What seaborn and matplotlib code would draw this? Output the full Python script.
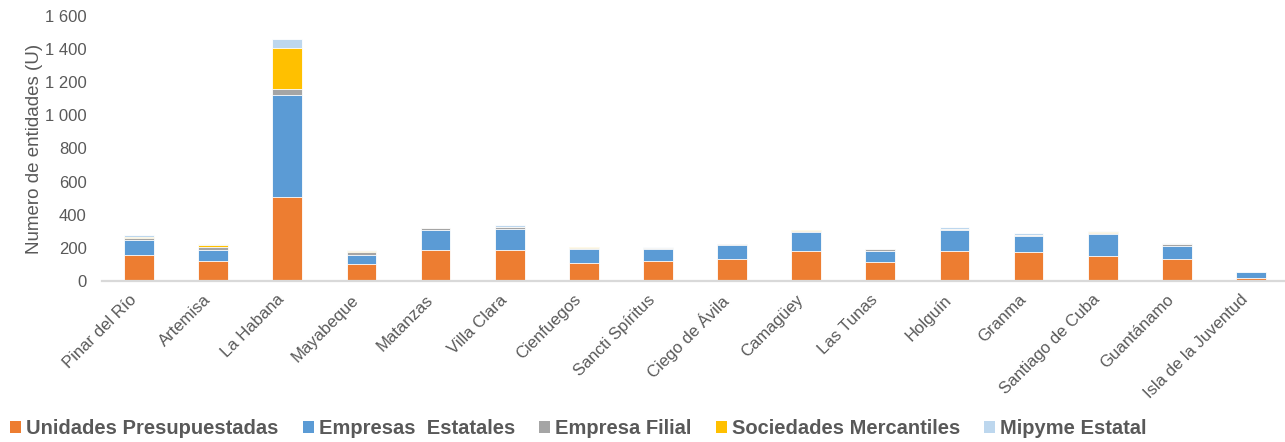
import matplotlib
matplotlib.use("Agg")
import matplotlib.pyplot as plt
from matplotlib.patches import Patch
from matplotlib.ticker import FuncFormatter, MultipleLocator
import seaborn as sns
import pandas as pd

provincias = ["Pinar del Río", "Artemisa", "La Habana", "Mayabeque", "Matanzas",
              "Villa Clara", "Cienfuegos", "Sancti Spíritus", "Ciego de Ávila",
              "Camagüey", "Las Tunas", "Holguín", "Granma", "Santiago de Cuba",
              "Guantánamo", "Isla de la Juventud"]
unidades = [157, 118, 509, 101, 186, 188, 107, 119, 133, 180, 113, 182, 174, 152, 133, 18]
empresas = [93, 72, 612, 59, 119, 123, 85, 73, 83, 115, 67, 123, 95, 129, 81, 35]
filial = [12, 16, 41, 16, 12, 14, 8, 7, 5, 5, 12, 6, 11, 8, 12, 1]
mercantiles = [2, 14, 246, 8, 1, 3, 4, 1, 0, 5, 0, 4, 0, 5, 0, 0]
mipyme = [12, 4, 53, 2, 3, 10, 3, 5, 4, 4, 4, 10, 8, 8, 6, 3]

series_names = ["Unidades Presupuestadas", "Empresas  Estatales", "Empresa Filial",
                "Sociedades Mercantiles", "Mipyme Estatal"]
series_vals = [unidades, empresas, filial, mercantiles, mipyme]
colors = ["#ED7D31", "#5B9BD5", "#A5A5A5", "#FFC000", "#BDD7EE"]

TXT = "#595959"
sns.set_theme(style="white")
plt.rcParams["font.family"] = ["Liberation Sans", "DejaVu Sans"]

fig = plt.figure(figsize=(12.85, 4.42), dpi=100)
ax = fig.add_axes([102 / 1285, 161 / 442, 1186 / 1285, 265 / 442])

# cumulative totals, drawn from top layer down so lower layers overlay
cum = []
running = [0] * len(provincias)
for vals in series_vals:
    running = [r + v for r, v in zip(running, vals)]
    cum.append(list(running))

for i in range(len(series_vals) - 1, -1, -1):
    df = pd.DataFrame({"prov": provincias, "val": cum[i]})
    sns.barplot(data=df, x="prov", y="val", order=provincias, color=colors[i],
                saturation=1, width=0.4, edgecolor="white", linewidth=0.6, ax=ax)

ax.set_xlim(-0.5, len(provincias) - 0.5)
ax.set_ylim(0, 1600)
ax.yaxis.set_major_locator(MultipleLocator(200))
ax.yaxis.set_major_formatter(FuncFormatter(lambda v, p: f"{v:,.0f}".replace(",", " ")))

ax.set_xlabel("")
ax.set_ylabel("Numero de entidades (U)", fontsize=13.5, color=TXT, labelpad=1.5)

for s in ["top", "right", "left"]:
    ax.spines[s].set_visible(False)
ax.spines["bottom"].set_color("#D9D9D9")
ax.spines["bottom"].set_linewidth(1.6)

ax.tick_params(axis="y", length=0, pad=11, labelsize=12, labelcolor=TXT)
ax.tick_params(axis="x", length=0, pad=8, labelsize=12, labelcolor=TXT)
ax.set_xticks(range(len(provincias)))
ax.set_xticklabels(provincias, rotation=45, ha="right", va="top")

handles = [Patch(facecolor=c, edgecolor="none") for c in colors]
fig.legend(handles, series_names, loc="center left",
           bbox_to_anchor=(10 / 1285, 1 - 429 / 442), ncol=5, frameon=False,
           borderpad=0, borderaxespad=0, handlelength=0.55, handleheight=0.55,
           handletextpad=0.25, columnspacing=1.2,
           prop={"family": "Liberation Sans", "weight": "bold", "size": 14.5},
           labelcolor=TXT)

fig.savefig("out.png", dpi=100)
